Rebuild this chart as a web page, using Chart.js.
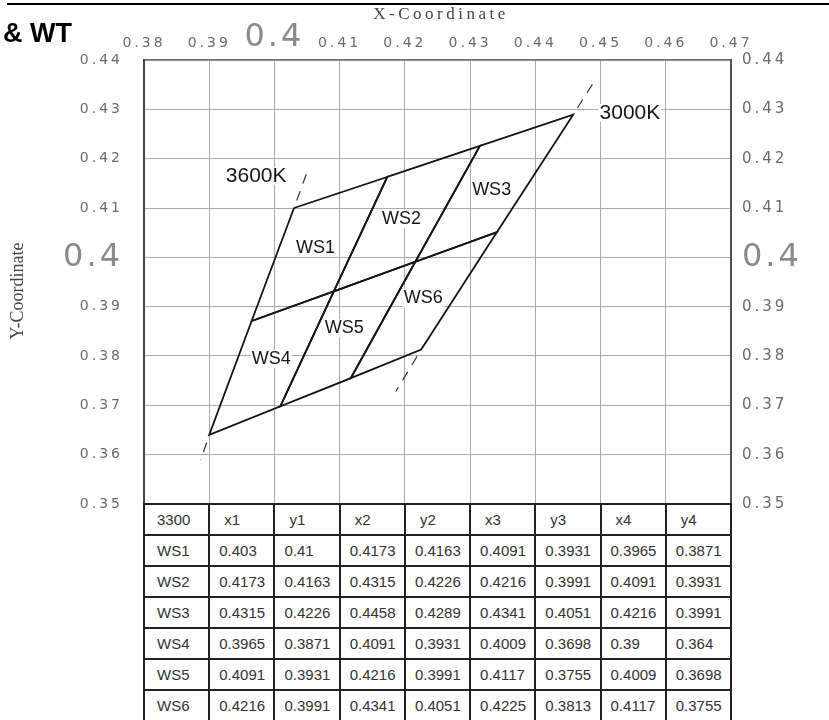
<!DOCTYPE html>
<html>
<head>
<meta charset="utf-8">
<script src="https://cdn.jsdelivr.net/npm/chart.js@4.4.1/dist/chart.umd.min.js"></script>
<style>
html,body{margin:0;padding:0;background:#fff;}
#wrap{position:relative;width:829px;height:720px;overflow:hidden;background:#fff;}
#c{position:absolute;left:0;top:0;}
#tbl{position:absolute;left:143px;top:503px;width:589px;border-collapse:collapse;table-layout:fixed;
  font-family:'Liberation Sans',Arial,sans-serif;font-size:15px;color:#333;background:#fff;}
#tbl col{width:65.22px;}
#tbl td{border:2px solid #222;height:29px;padding:0 0 0 9px;white-space:nowrap;overflow:hidden;}
#tbl td:first-child{padding-left:12px;}
#tbl tr.head td{padding-left:14px;}
#tbl tr.head td:first-child{padding-left:12px;}
</style>
</head>
<body>
<div id="wrap">
<canvas id="c" width="829" height="720"></canvas>
<table id="tbl"></table>
</div>
<script>
// ---- axis ticks ----
const xTickValues = [0.38, 0.39, 0.40, 0.41, 0.42, 0.43, 0.44, 0.45, 0.46, 0.47];
const xTickLabels = ['0.38', '0.39', '0.4', '0.41', '0.42', '0.43', '0.44', '0.45', '0.46', '0.47'];
const yTickValues = [0.35, 0.36, 0.37, 0.38, 0.39, 0.40, 0.41, 0.42, 0.43, 0.44];
const yTickLabels = ['0.35', '0.36', '0.37', '0.38', '0.39', '0.4', '0.41', '0.42', '0.43', '0.44'];

// ---- bin table (corner coordinates) ----
const tableCorner = '3300';
const columnNames = ['x1', 'y1', 'x2', 'y2', 'x3', 'y3', 'x4', 'y4'];
const binNames = ['WS1', 'WS2', 'WS3', 'WS4', 'WS5', 'WS6'];
const x1 = [0.403, 0.4173, 0.4315, 0.3965, 0.4091, 0.4216];
const y1 = [0.41, 0.4163, 0.4226, 0.3871, 0.3931, 0.3991];
const x2 = [0.4173, 0.4315, 0.4458, 0.4091, 0.4216, 0.4341];
const y2 = [0.4163, 0.4226, 0.4289, 0.3931, 0.3991, 0.4051];
const x3 = [0.4091, 0.4216, 0.4341, 0.4009, 0.4117, 0.4225];
const y3 = [0.3931, 0.3991, 0.4051, 0.3698, 0.3755, 0.3813];
const x4 = [0.3965, 0.4091, 0.4216, 0.39, 0.4009, 0.4117];
const y4 = [0.3871, 0.3931, 0.3991, 0.364, 0.3698, 0.3755];

// ---- CCT (isotherm) dashed extensions ----
const cctStartX = [x1[0], x2[2], x4[3], x3[5]];
const cctStartY = [y1[0], y2[2], y4[3], y3[5]];
const cctEndX = [0.4049, 0.4489, 0.3887, 0.4186];
const cctEndY = [0.4169, 0.4354, 0.3589, 0.3728];

// ---- text annotations (data units) ----
const cctNames = ['3600K', '3000K'];
const cctLabelX = [0.3972, 0.4545];
const cctLabelY = [0.4165, 0.4293];
const binLabelX = [0.4063, 0.4195, 0.4333, 0.3995, 0.4107, 0.4228];
const binLabelY = [0.4019, 0.4078, 0.4137, 0.3794, 0.3856, 0.3917];

// ---- table ----
(function buildTable(){
  const cols = [x1, y1, x2, y2, x3, y3, x4, y4];
  let html = '<colgroup>' + '<col>'.repeat(columnNames.length + 1) + '</colgroup>';
  html += '<tr class="head"><td>' + tableCorner + '</td>' + columnNames.map(c => '<td>' + c + '</td>').join('') + '</tr>';
  binNames.forEach((n, i) => {
    html += '<tr><td>' + n + '</td>' + cols.map(a => '<td>' + a[i] + '</td>').join('') + '</tr>';
  });
  document.getElementById('tbl').innerHTML = html;
})();

// ---- styles ----
const tickFamily = "'DejaVu Sans', sans-serif";
const tickColor = '#6b6b6b';
const isBig = (ctx) => ctx.tick && Math.abs(ctx.tick.value - 0.4) < 1e-9;
function tickFont(size) {
  return (ctx) => isBig(ctx)
    ? { family: tickFamily, size: 32, lineHeight: 0.9 }
    : { family: tickFamily, size: size, lineHeight: 1.2 };
}
const tickCol = (ctx) => isBig(ctx) ? '#8a8a8a' : tickColor;

const datasets = [];
binNames.forEach((n, i) => {
  datasets.push({
    label: n,
    data: [
      { x: x1[i], y: y1[i] }, { x: x2[i], y: y2[i] },
      { x: x3[i], y: y3[i] }, { x: x4[i], y: y4[i] },
      { x: x1[i], y: y1[i] }
    ],
    showLine: true, borderColor: '#141414', borderWidth: 1.8,
    pointRadius: 0, fill: false, tension: 0
  });
});
cctStartX.forEach((sx, i) => {
  datasets.push({
    label: 'cct' + i,
    data: [{ x: sx, y: cctStartY[i] }, { x: cctEndX[i], y: cctEndY[i] }],
    showLine: true, borderColor: '#333', borderWidth: 1.2,
    borderDash: [10, 8], borderDashOffset: 10, pointRadius: 0, fill: false
  });
});

function maskedText(ctx, text, px, py, font) {
  ctx.save();
  ctx.letterSpacing = '0px';
  ctx.font = font;
  const w = ctx.measureText(text).width;
  ctx.fillStyle = '#fff';
  ctx.fillRect(px - w / 2 - 1, py - 9, w + 2, 18);
  ctx.fillStyle = '#161616';
  ctx.textAlign = 'center';
  ctx.textBaseline = 'middle';
  ctx.fillText(text, px, py);
  ctx.restore();
}

const extrasPlugin = {
  id: 'extras',
  beforeDraw(chart) { chart.ctx.letterSpacing = '3px'; },
  beforeDatasetsDraw(chart) {
    const ctx = chart.ctx;
    ctx.letterSpacing = '0px';
    const xs = chart.scales.x, ys = chart.scales.y;
    binNames.forEach((n, i) => {
      maskedText(ctx, n, xs.getPixelForValue(binLabelX[i]), ys.getPixelForValue(binLabelY[i]), "18px 'Liberation Sans', Arial, sans-serif");
    });
    cctNames.forEach((n, i) => {
      maskedText(ctx, n, xs.getPixelForValue(cctLabelX[i]), ys.getPixelForValue(cctLabelY[i]), "21px 'Liberation Sans', Arial, sans-serif");
    });
  },
  afterDraw(chart) {
    const ctx = chart.ctx;
    ctx.save();
    ctx.letterSpacing = '0px';
    // top rule
    ctx.strokeStyle = '#000';
    ctx.lineWidth = 2;
    ctx.beginPath(); ctx.moveTo(7, 4); ctx.lineTo(829, 4); ctx.stroke();
    // heading fragment
    ctx.fillStyle = '#000';
    ctx.font = "bold 27px 'Liberation Sans', Arial, sans-serif";
    ctx.textAlign = 'left'; ctx.textBaseline = 'alphabetic';
    ctx.fillText('& WT', 3, 42);
    // X axis title
    ctx.fillStyle = '#444';
    ctx.font = "17px 'Liberation Serif', serif";
    ctx.letterSpacing = '3.5px';
    ctx.textAlign = 'center'; ctx.textBaseline = 'middle';
    ctx.fillText('X-Coordinate', 441, 15);
    // Y axis title
    ctx.letterSpacing = '0px';
    ctx.font = "18px 'Liberation Serif', serif";
    ctx.translate(18, 291);
    ctx.rotate(-Math.PI / 2);
    ctx.fillText('Y-Coordinate', 0, 0);
    ctx.restore();
  }
};

new Chart(document.getElementById('c'), {
  type: 'scatter',
  data: { datasets },
  options: {
    responsive: false,
    animation: false,
    events: [],
    layout: { padding: { left: 0, right: 0, top: 0, bottom: 216 } },
    plugins: { legend: { display: false }, tooltip: { enabled: false }, title: { display: false } },
    scales: {
      x: {
        type: 'linear', position: 'top', min: 0.38, max: 0.47,
        afterBuildTicks: s => { s.ticks = xTickValues.map(v => ({ value: v })); },
        afterFit: s => { s.height = 60; },
        ticks: { callback: (v, i) => xTickLabels[i], color: tickCol, font: tickFont(14), padding: 8, autoSkip: false, maxRotation: 0, minRotation: 0 },
        grid: { color: '#aaaaaa', lineWidth: 1, drawTicks: false },
        border: { display: true, color: '#707070', width: 1.5 }
      },
      y: {
        type: 'linear', position: 'left', min: 0.35, max: 0.44,
        afterBuildTicks: s => { s.ticks = yTickValues.map(v => ({ value: v })); },
        afterFit: s => { s.width = 144; },
        ticks: { callback: (v, i) => yTickLabels[i], color: tickCol, font: tickFont(14), padding: 21, autoSkip: false },
        grid: { color: '#aaaaaa', lineWidth: 1, drawTicks: false },
        border: { display: true, color: '#4a404a', width: 2 }
      },
      y2: {
        type: 'linear', position: 'right', min: 0.35, max: 0.44,
        afterBuildTicks: s => { s.ticks = yTickValues.map(v => ({ value: v })); },
        afterFit: s => { s.width = 98; },
        ticks: { callback: (v, i) => yTickLabels[i], color: tickCol, font: tickFont(15), padding: 11, autoSkip: false },
        grid: { display: false, drawTicks: false },
        border: { display: true, color: '#5a4a5a', width: 2 }
      }
    }
  },
  plugins: [extrasPlugin]
});
</script>
</body>
</html>
